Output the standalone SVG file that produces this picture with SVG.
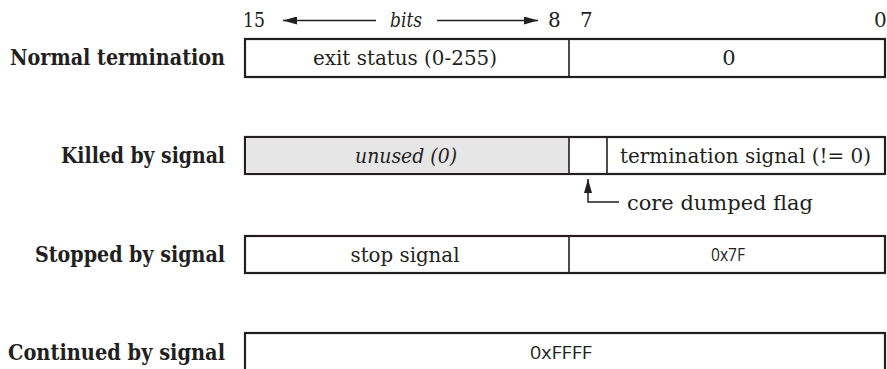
<svg xmlns="http://www.w3.org/2000/svg" width="887" height="369" viewBox="0 0 887 369">
<style>
text{font-family:'DejaVu Serif','Liberation Serif','Noto Serif',serif;fill:#231f20}
.lbl{font-weight:bold;font-size:22px;text-anchor:end}
.t{font-size:21px;text-anchor:middle}
.n{font-size:20px}
.s{font-family:'Open Sans','Noto Sans',sans-serif;font-size:19px;text-anchor:middle}
.box{fill:#fff;stroke:#231f20;stroke-width:2.2}
.div{stroke:#231f20;stroke-width:1.6;fill:none}
.ln{stroke:#231f20;stroke-width:1.5;fill:none}
</style>
<defs>
<marker id="ah" viewBox="0 0 14 8" refX="14" refY="4" markerWidth="14" markerHeight="8" markerUnits="userSpaceOnUse" orient="auto">
<path d="M0,0 L14,4 L0,8 Z" fill="#231f20"/>
</marker>
</defs>
<g id="bits-scale">
<text class="n" x="243" y="27" textLength="22" lengthAdjust="spacingAndGlyphs">15</text>
<text class="n" x="390" y="27" font-style="italic" textLength="32" lengthAdjust="spacingAndGlyphs">bits</text>
<text class="n" x="548" y="27">8</text>
<text class="n" x="580" y="27">7</text>
<text class="n" x="874" y="27">0</text>
</g>
<g id="normal">
<text class="lbl" x="225" y="65" textLength="215" lengthAdjust="spacingAndGlyphs">Normal termination</text>
<rect class="box" x="245" y="39" width="640" height="38"/>
<line class="div" x1="569" y1="39" x2="569" y2="77"/>
<text class="t" x="405" y="65" textLength="184" lengthAdjust="spacingAndGlyphs">exit status (0-255)</text>
<text class="t" x="729" y="65">0</text>
</g>
<g id="killed">
<text class="lbl" x="225" y="163" textLength="164" lengthAdjust="spacingAndGlyphs">Killed by signal</text>
<rect class="box" x="245" y="137" width="640" height="37"/>
<rect x="246" y="138" width="323" height="35" fill="#e6e6e6"/>
<line class="div" x1="569" y1="137" x2="569" y2="174"/>
<line class="div" x1="607" y1="137" x2="607" y2="174"/>
<text class="t" x="406" y="163" font-style="italic" textLength="102" lengthAdjust="spacingAndGlyphs">unused (0)</text>
<text class="t" x="745.5" y="163" textLength="251" lengthAdjust="spacingAndGlyphs">termination signal (!= 0)</text>
<text class="t" x="627" y="210" style="text-anchor:start" textLength="186" lengthAdjust="spacingAndGlyphs">core dumped flag</text>
</g>
<g id="stopped">
<text class="lbl" x="225" y="262" textLength="190" lengthAdjust="spacingAndGlyphs">Stopped by signal</text>
<rect class="box" x="245" y="236" width="640" height="37"/>
<line class="div" x1="569" y1="236" x2="569" y2="273"/>
<text class="t" x="405" y="262" textLength="109" lengthAdjust="spacingAndGlyphs">stop signal</text>
<text class="s" x="728" y="261" textLength="34" lengthAdjust="spacingAndGlyphs">0x7F</text>
</g>
<g id="continued">
<text class="lbl" x="225" y="360" textLength="217" lengthAdjust="spacingAndGlyphs">Continued by signal</text>
<rect class="box" x="245" y="333" width="640" height="40"/>
<text class="s" x="561" y="359" textLength="62" lengthAdjust="spacingAndGlyphs">0xFFFF</text>
</g>
<g id="connectors">
<line class="ln" x1="376" y1="20.5" x2="283" y2="20.5" marker-end="url(#ah)"/>
<line class="ln" x1="437" y1="20.5" x2="538" y2="20.5" marker-end="url(#ah)"/>
<polyline class="ln" points="619,202 588,202 588,179" marker-end="url(#ah)"/>
</g>
</svg>
